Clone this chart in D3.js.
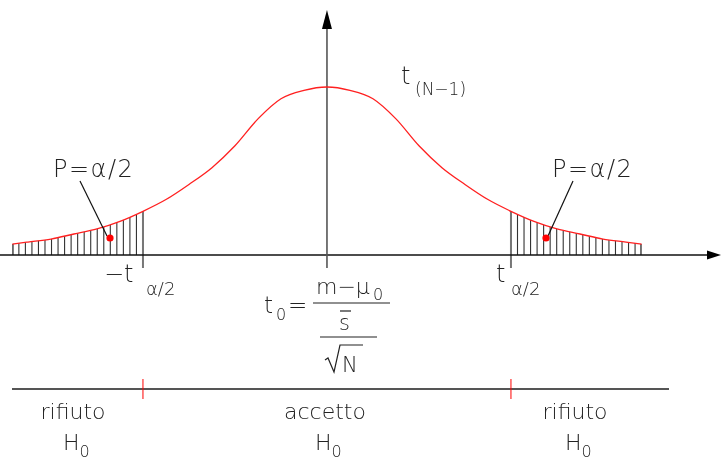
<!DOCTYPE html>
<html>
<head>
<meta charset="utf-8">
<script src="https://cdn.jsdelivr.net/npm/d3@7"></script>
<style>
  body { margin: 0; background: #fff; }
  #chart { will-change: transform; }
  svg text { font-family: "DejaVu Sans", sans-serif; font-weight: 200; fill: #222; }
</style>
</head>
<body>
<div id="chart"></div>
<script>
// t values and relative density of the t(N-1) curve
const tValues = [-3.42, -3.25, -3.0, -2.75, -2.5, -2.25, -2.0, -1.75, -1.5, -1.25, -1.0, -0.75, -0.5, -0.25,
  0, 0.25, 0.5, 0.75, 1.0, 1.25, 1.5, 1.75, 2.0, 2.25, 2.5, 2.75, 3.0, 3.25, 3.42];
const density = [0.065, 0.077, 0.095, 0.125, 0.155, 0.2, 0.26, 0.33, 0.42, 0.52, 0.65, 0.81, 0.93, 0.98,
  1.0, 0.98, 0.93, 0.81, 0.65, 0.52, 0.42, 0.33, 0.26, 0.2, 0.155, 0.125, 0.095, 0.077, 0.065];
const tCrit = 2.0;        // t alpha/2
const tEnd = 3.42;        // where the drawn tails stop
const hatchCount = 20;    // hatch intervals in each tail
const regions = [
  { label: "rifiuto", x: 73 },
  { label: "accetto", x: 325 },
  { label: "rifiuto", x: 575 },
];

const W = 721, H = 462;
const axisY = 255;

const x = d3.scaleLinear().domain([-3.554, 4.283]).range([0, W]);
const y = d3.scaleLinear().domain([0, 1]).range([axisY, 87]);

const svg = d3.select("#chart").append("svg")
  .attr("width", W).attr("height", H);

const defs = svg.append("defs");

const pts = tValues.map((t, i) => ({ t: t, v: density[i] }));

const area = d3.area()
  .curve(d3.curveMonotoneX)
  .x(d => x(d.t)).y0(y(0)).y1(d => y(d.v));

defs.append("clipPath").attr("id", "under")
  .append("path").attr("d", area(pts));

// hatch in both tails, clipped under the curve
const hatch = [];
for (let i = 0; i <= hatchCount; i++) {
  const t = tCrit + (tEnd - tCrit) * i / hatchCount;
  hatch.push(-t, t);
}
svg.append("g").attr("clip-path", "url(#under)")
  .selectAll("line").data(hatch).enter().append("line")
  .attr("x1", d => x(d)).attr("x2", d => x(d))
  .attr("y1", y(0)).attr("y2", 60)
  .attr("stroke", d => Math.abs(Math.abs(d) - tEnd) < 1e-6 ? "#222" : "#333")
  .attr("stroke-width", d => Math.abs(Math.abs(d) - tEnd) < 1e-6 ? 2.5 : 1.1);

// critical lines
svg.selectAll(".crit").data([-tCrit, tCrit]).enter().append("line")
  .attr("class", "crit")
  .attr("x1", d => x(d)).attr("x2", d => x(d))
  .attr("y1", y(0.26)).attr("y2", 268)
  .attr("stroke", "#777").attr("stroke-width", 2);

// axes
svg.append("line")
  .attr("x1", 0).attr("x2", 708).attr("y1", axisY).attr("y2", axisY)
  .attr("stroke", "#111").attr("stroke-width", 1.6);
svg.append("path")
  .attr("d", `M721,${axisY} L707,${axisY - 4.5} L707,${axisY + 4.5} Z`)
  .attr("fill", "#000");
svg.append("line")
  .attr("x1", x(0)).attr("x2", x(0)).attr("y1", 28).attr("y2", 268)
  .attr("stroke", "#555").attr("stroke-width", 1.6);
svg.append("path")
  .attr("d", `M${x(0)},10 L${x(0) - 5},29 L${x(0) + 5},29 Z`)
  .attr("fill", "#000");

// curve
svg.append("path")
  .attr("d", d3.line().curve(d3.curveMonotoneX).x(d => x(d.t)).y(d => y(d.v))(pts))
  .attr("fill", "none").attr("stroke", "#ff2020").attr("stroke-width", 1.3);

// P = alpha/2 labels with leaders and dots
const tails = [
  { dx: 110, dy: 238, lx: 80, tx: 53 },
  { dx: 546, dy: 238, lx: 573, tx: 552 },
];
tails.forEach(p => {
  svg.append("line")
    .attr("x1", p.lx).attr("y1", 181).attr("x2", p.dx + (p.lx < p.dx ? -3 : 2)).attr("y2", p.dy - 2)
    .attr("stroke", "#111").attr("stroke-width", 1.2);
  svg.append("circle").attr("cx", p.dx).attr("cy", p.dy).attr("r", 3.6).attr("fill", "#ff0000");
  svg.append("text").attr("x", p.tx).attr("y", 177)
    .style("font-size", "24px").style("letter-spacing", "1.5px").text("P=α/2");
});

// t(N-1)
const tl = svg.append("text").attr("x", 401).attr("y", 84).style("font-size", "24px");
tl.append("tspan").text("t");
tl.append("tspan").attr("x", 415).attr("y", 95).style("font-size", "17px").text("(N−1)");

// -t alpha/2 and t alpha/2
const lc = svg.append("text").attr("x", 104).attr("y", 282).style("font-size", "24px");
lc.append("tspan").text("−t");
lc.append("tspan").attr("x", 146).attr("y", 295).style("font-size", "18px").text("α/2");
const rc = svg.append("text").attr("x", 496).attr("y", 282).style("font-size", "24px");
rc.append("tspan").text("t");
rc.append("tspan").attr("x", 511).attr("y", 295).style("font-size", "18px").text("α/2");

// statistic formula
const f = svg.append("g");
const t0 = f.append("text").attr("x", 264).attr("y", 313).style("font-size", "23px");
t0.append("tspan").text("t");
t0.append("tspan").attr("x", 276).attr("y", 320).style("font-size", "16px").text("0");
f.append("text").attr("x", 288).attr("y", 313).style("font-size", "23px").text("=");
const num = f.append("text").attr("x", 316).attr("y", 294).style("font-size", "22px");
num.append("tspan").text("m−μ");
num.append("tspan").attr("x", 373).attr("y", 300).style("font-size", "16px").text("0");
f.append("line").attr("x1", 313).attr("x2", 390).attr("y1", 303).attr("y2", 303)
  .attr("stroke", "#222").attr("stroke-width", 1.2);
f.append("text").attr("x", 339).attr("y", 330).style("font-size", "21px").text("s");
f.append("line").attr("x1", 340).attr("x2", 351).attr("y1", 311).attr("y2", 311)
  .attr("stroke", "#222").attr("stroke-width", 1.2);
f.append("line").attr("x1", 320).attr("x2", 377).attr("y1", 337).attr("y2", 337)
  .attr("stroke", "#222").attr("stroke-width", 1.2);
f.append("path").attr("d", "M325,360 L328,358 L334,372 L340,345 L363,345")
  .attr("fill", "none").attr("stroke", "#222").attr("stroke-width", 1.2);
f.append("text").attr("x", 342).attr("y", 372).style("font-size", "21px").text("N");

// decision line
svg.append("line").attr("x1", 12).attr("x2", 669).attr("y1", 389).attr("y2", 389)
  .attr("stroke", "#555").attr("stroke-width", 1.8);
svg.selectAll(".rt").data([-tCrit, tCrit]).enter().append("line")
  .attr("class", "rt")
  .attr("x1", d => x(d)).attr("x2", d => x(d)).attr("y1", 379).attr("y2", 399)
  .attr("stroke", "#ff0000").attr("stroke-width", 1);

regions.forEach(r => {
  svg.append("text").attr("x", r.x).attr("y", 419).attr("text-anchor", "middle")
    .style("font-size", "22px").text(r.label);
  const h0 = svg.append("text").attr("x", r.x - 10).attr("y", 450).style("font-size", "22px");
  h0.append("tspan").style("fill", "#222").text("H");
  h0.append("tspan").attr("y", 457).style("fill", "#222").style("font-size", "16px").text("0");
});
</script>
</body>
</html>
